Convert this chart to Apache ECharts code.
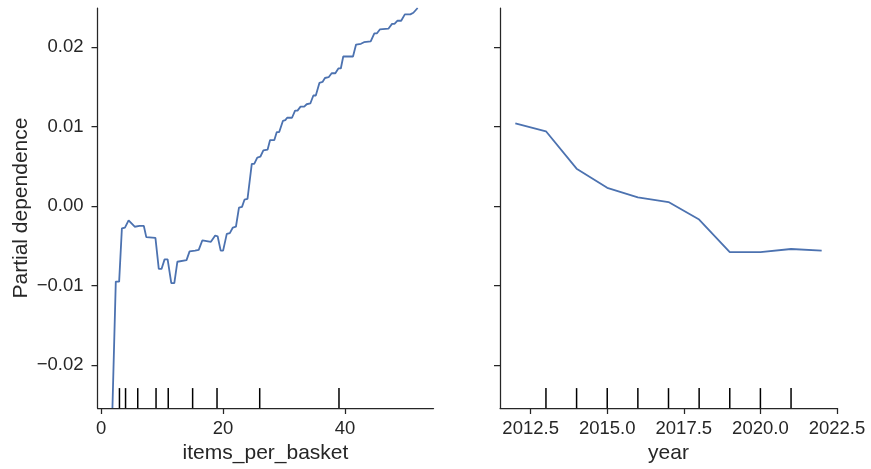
<!DOCTYPE html>
<html>
<head>
<meta charset="utf-8">
<script src="https://cdn.jsdelivr.net/npm/echarts@6/dist/echarts.min.js"></script>
<style>
  html, body { margin: 0; padding: 0; background: #fff; }
  #chart { width: 871px; height: 469px; }
</style>
</head>
<body>
<div id="chart"></div>
<script>
// Partial dependence of the prediction on items_per_basket (grid values)
const basketGrid = [1.85, 2.4, 2.95, 3.4, 3.9, 4.5, 4.8, 5.5, 6.3, 7.0, 7.4, 8.9, 9.45, 9.9, 10.4, 10.9,
  11.5, 12.0, 12.5, 14.0, 14.5, 15.4, 16.0, 16.6, 18.0, 18.7, 19.1, 19.6, 20.0, 20.6, 21.1, 21.6,
  22.1, 22.6, 23.1, 23.5, 24.0, 24.7, 25.1, 25.6, 26.1, 26.6, 27.3, 27.7, 28.4, 28.8, 29.2, 29.8,
  30.2, 30.5, 31.3, 31.8, 32.2, 32.7, 33.3, 33.7, 34.3, 34.8, 35.2, 35.8, 36.3, 36.7, 37.3, 37.8,
  38.4, 38.9, 39.3, 39.7, 41.3, 41.8, 42.6, 43.1, 44.2, 44.8, 45.2, 45.7, 47.1, 47.7, 48.1, 48.6,
  49.2, 49.8, 50.7, 51.2, 51.5, 51.9];
const basketPD = [-0.0254, -0.0095, -0.0095, -0.0028, -0.0027, -0.0018, -0.0018, -0.0026, -0.0025, -0.0025, -0.0039, -0.0040, -0.0079, -0.0079, -0.0067, -0.0067,
  -0.0097, -0.0097, -0.0070, -0.0068, -0.0057, -0.0056, -0.0055, -0.0043, -0.0045, -0.0037, -0.0038, -0.0056, -0.0056, -0.0035, -0.0034, -0.0027,
  -0.0026, -0.0002, -0.0001, 0.0008, 0.0009, 0.0053, 0.0053, 0.0061, 0.0062, 0.0070, 0.0071, 0.0083, 0.0083, 0.0093, 0.0093, 0.0107,
  0.0108, 0.0111, 0.0111, 0.0120, 0.0120, 0.0125, 0.0125, 0.0128, 0.0129, 0.0139, 0.0139, 0.0155, 0.0156, 0.0161, 0.0162, 0.0167,
  0.0167, 0.0173, 0.0173, 0.0188, 0.0188, 0.0203, 0.0204, 0.0206, 0.0207, 0.0217, 0.0217, 0.0222, 0.0223, 0.0229, 0.0229, 0.0233,
  0.0233, 0.0241, 0.0241, 0.0243, 0.0243, 0.0249];

// Partial dependence on year
const years = [2012, 2013, 2014, 2015, 2016, 2017, 2018, 2019, 2020, 2021, 2022];
const yearPD = [0.0104, 0.0094, 0.0047, 0.0023, 0.0011, 0.0005, -0.0017, -0.0058, -0.0058, -0.0054, -0.0056];

// Deciles of each feature, shown as a rug along the bottom
const basketDeciles = [3, 4, 6, 9, 11, 15, 19, 26, 39];
const yearDeciles = [2013, 2014, 2015, 2016, 2017, 2018, 2019, 2020, 2021];

// Tick positions
const pdTicks = [-0.02, -0.01, 0.00, 0.01, 0.02];
const basketTicks = [0, 20, 40];
const yearTicks = [2012.5, 2015.0, 2017.5, 2020.0, 2022.5];

const INK = '#262626';
const LINE = '#4C72B0';
const FONT = 'Liberation Sans, Arial, sans-serif';
const TICK_SIZE = 18.5;
const LABEL_SIZE = 21;

// Shared y range spans exactly the partial dependence values
const allPD = basketPD.concat(yearPD);
const yMin = Math.min(...allPD);
const yMax = Math.max(...allPD);

const axisLineStyle = { color: INK, width: 1.25 };

function fmtPD(v) {
  if (Math.abs(v) < 1e-12) return '0.00';
  return (v < 0 ? '\u2212' : '') + Math.abs(v).toFixed(2);
}

function xAxisCfg(idx, min, max, ticks, name, fmt) {
  return {
    type: 'value', gridIndex: idx, min: min, max: max,
    axisLine: { show: true, onZero: false, lineStyle: axisLineStyle },
    axisTick: { show: true, length: 6, lineStyle: axisLineStyle, customValues: ticks },
    axisLabel: { customValues: ticks, color: INK, fontSize: TICK_SIZE, fontFamily: FONT, margin: 11, formatter: fmt },
    splitLine: { show: false },
    name: name, nameLocation: 'middle', nameGap: 33,
    nameTextStyle: { color: INK, fontSize: LABEL_SIZE, fontFamily: FONT }
  };
}

function yAxisCfg(idx, showLabels) {
  const cfg = {
    type: 'value', gridIndex: idx, min: yMin, max: yMax,
    axisLine: { show: true, onZero: false, lineStyle: axisLineStyle },
    axisTick: { show: true, length: 6, lineStyle: axisLineStyle, customValues: pdTicks },
    axisLabel: { show: showLabels, customValues: pdTicks, color: INK, fontSize: TICK_SIZE, fontFamily: FONT, margin: 14, formatter: fmtPD },
    splitLine: { show: false }
  };
  if (showLabels) {
    cfg.name = 'Partial dependence';
    cfg.nameLocation = 'middle';
    cfg.nameRotate = 90;
    cfg.nameGap = 66;
    cfg.nameTextStyle = { color: INK, fontSize: LABEL_SIZE, fontFamily: FONT };
  }
  return cfg;
}

// Rug: short vertical strokes from the bottom of the axes up to 5% of its height
function rugItem(params, api) {
  const p = api.coord([api.value(0), yMin]);
  const h = params.coordSys.height * 0.05;
  return {
    type: 'line',
    shape: { x1: p[0], y1: p[1], x2: p[0], y2: p[1] - h },
    style: { stroke: '#000', lineWidth: 1.5 }
  };
}

const chart = echarts.init(document.getElementById('chart'), null, { renderer: 'canvas' });
chart.setOption({
  animation: false,
  backgroundColor: '#fff',
  grid: [
    { left: 97.5, top: 8, width: 336, height: 401 },
    { left: 500, top: 8, width: 337, height: 401 }
  ],
  xAxis: [
    xAxisCfg(0, -0.6, 54.5, basketTicks, 'items_per_basket', v => String(Math.round(v))),
    xAxisCfg(1, 2011.5, 2022.5, yearTicks, 'year', v => v.toFixed(1))
  ],
  yAxis: [yAxisCfg(0, true), yAxisCfg(1, false)],
  series: [
    {
      type: 'line', xAxisIndex: 0, yAxisIndex: 0, showSymbol: false,
      lineStyle: { color: LINE, width: 1.8 },
      data: basketGrid.map((x, i) => [x, basketPD[i]])
    },
    {
      type: 'line', xAxisIndex: 1, yAxisIndex: 1, showSymbol: false,
      lineStyle: { color: LINE, width: 1.8 },
      data: years.map((x, i) => [x, yearPD[i]])
    },
    {
      type: 'custom', xAxisIndex: 0, yAxisIndex: 0, renderItem: rugItem,
      encode: { x: 0 }, data: basketDeciles.map(d => [d, yMin])
    },
    {
      type: 'custom', xAxisIndex: 1, yAxisIndex: 1, renderItem: rugItem,
      encode: { x: 0 }, data: yearDeciles.map(d => [d, yMin])
    }
  ]
});
</script>
</body>
</html>
